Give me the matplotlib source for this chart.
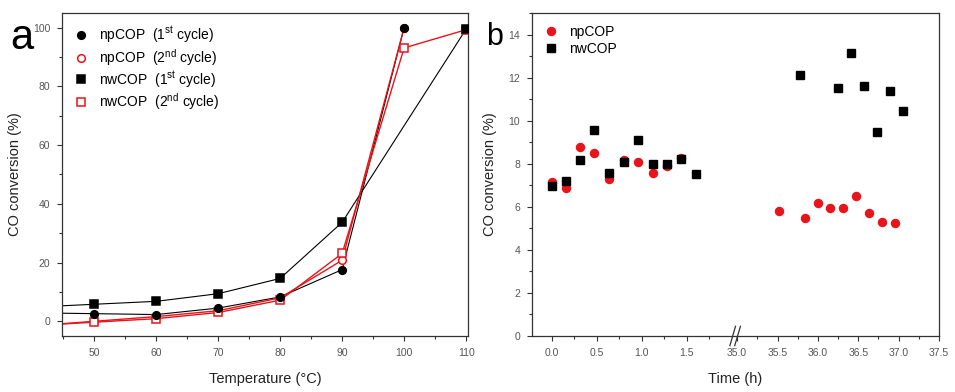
"""Two-panel CO conversion figure: temperature sweep (a) and stability over time (b)."""

import matplotlib

matplotlib.use('Agg')
import matplotlib.pyplot as plt
import numpy as np
from matplotlib.ticker import FixedLocator, MultipleLocator

plt.rcParams['font.family'] = ['Liberation Sans', 'DejaVu Sans']
plt.rcParams['mathtext.default'] = 'regular'

# Panel a: conversion vs temperature.
np1_temp = [50, 60, 70, 80, 90, 100]
np1_conv = [2.6, 2.3, 4.5, 8.3, 17.6, 100.0]
np2_temp = [50, 60, 70, 80, 90, 100]
np2_conv = [0.0, 1.6, 3.6, 8.0, 20.8, 100.0]
nw1_temp = [50, 60, 70, 80, 90, 110]
nw1_conv = [5.8, 6.8, 9.4, 14.6, 33.7, 99.5]
nw2_temp = [50, 60, 70, 80, 90, 100, 110]
nw2_conv = [-0.3, 0.9, 3.0, 7.2, 23.1, 93.1, 99.3]

# Panel b: conversion vs time on stream.
np_time = [0.0, 0.155, 0.31, 0.47, 0.64, 0.80, 0.96, 1.12, 1.28, 1.44,
           35.52, 35.84, 36.0, 36.15, 36.31, 36.47, 36.63, 36.79, 36.95]
np_conv = [7.15, 6.89, 8.78, 8.50, 7.31, 8.16, 8.08, 7.59, 7.90, 8.25,
           5.81, 5.50, 6.18, 5.95, 5.95, 6.49, 5.69, 5.27, 5.25]
nw_time = [0.0, 0.16, 0.31, 0.47, 0.64, 0.80, 0.96, 1.12, 1.28, 1.44, 1.60,
           35.78, 36.25, 36.41, 36.57, 36.73, 36.89, 37.05]
nw_conv = [6.95, 7.19, 8.19, 9.55, 7.57, 8.08, 9.09, 7.97, 8.00, 8.22, 7.54,
           12.12, 11.51, 13.15, 11.59, 9.47, 11.37, 10.45]

time_ticks = [0.0, 0.5, 1.0, 1.5, 35.0, 35.5, 36.0, 36.5, 37.0, 37.5]
time_minor = [0.25, 0.75, 1.25, 1.75, 35.25, 35.75, 36.25, 36.75, 37.25]

RED = '#e8141b'
TICK_COLOR = '#555555'
SPINE_COLOR = '#333333'

# Broken time axis: second segment is a bit compressed.
SCALE2 = 0.898
SEG2_START = 2.06


def forward(t):
    t = np.asarray(t, dtype=float)
    return np.where(t < 18, t, SEG2_START + (t - 35.0) * SCALE2)


def inverse(u):
    u = np.asarray(u, dtype=float)
    return np.where(u < 2.03, u, 35.0 + (u - SEG2_START) / SCALE2)


def style_axes(ax):
    for spine in ax.spines.values():
        spine.set_color(SPINE_COLOR)
        spine.set_linewidth(0.9)
    ax.tick_params(which='both', direction='out', colors=SPINE_COLOR,
                   labelcolor=TICK_COLOR, labelsize=7.5, top=False, right=False)
    ax.tick_params(which='major', length=3.5, width=0.8, pad=5)
    ax.tick_params(which='minor', length=2, width=0.8)


def with_left_extension(xs, ys, x_left):
    """Extend a series to the left axis edge along its first segment."""
    slope = (ys[1] - ys[0]) / (xs[1] - xs[0])
    return [x_left] + list(xs), [ys[0] + slope * (x_left - xs[0])] + list(ys)


fig = plt.figure(figsize=(9.55, 3.92), dpi=100)
ax_a = fig.add_axes([0.0649, 0.1429, 0.4251, 0.824])
ax_b = fig.add_axes([0.5571, 0.1429, 0.4262, 0.824])

# ---- Panel a
x_left = 44.8
series = [
    (np1_temp, np1_conv, 'k', 'o', 'k', 'npCOP  (1$^{st}$ cycle)', 0.8, 5),
    (np2_temp, np2_conv, RED, 'o', 'white', 'npCOP  (2$^{nd}$ cycle)', 1.0, 4),
    (nw1_temp, nw1_conv, 'k', 's', 'k', 'nwCOP  (1$^{st}$ cycle)', 0.8, 5),
    (nw2_temp, nw2_conv, RED, 's', 'white', 'nwCOP  (2$^{nd}$ cycle)', 1.0, 4),
]
for xs, ys, color, marker, face, label, lw, z in series:
    lx, ly = with_left_extension(xs, ys, x_left)
    ax_a.plot(lx, ly, color=color, lw=lw, zorder=2)
    ax_a.plot(xs, ys, linestyle='none', marker=marker, markersize=5.5,
              markerfacecolor=face, markeredgecolor=color, markeredgewidth=1.1,
              label=label, zorder=z)

ax_a.set_xlim(x_left, 110.3)
ax_a.set_ylim(-5, 105)
ax_a.xaxis.set_major_locator(MultipleLocator(10))
ax_a.xaxis.set_minor_locator(MultipleLocator(5))
ax_a.yaxis.set_major_locator(MultipleLocator(20))
ax_a.yaxis.set_minor_locator(MultipleLocator(10))
style_axes(ax_a)
ax_a.set_xlabel('Temperature (°C)', fontsize=10.5, color='#222222', labelpad=10)
ax_a.set_ylabel('CO conversion (%)', fontsize=10.5, color='#222222', labelpad=8)
ax_a.legend(loc='upper left', bbox_to_anchor=(0.0, 1.0), frameon=False,
            fontsize=10, handlelength=1.0, handletextpad=0.8,
            labelspacing=0.1, borderaxespad=0.45)
fig.text(0.023, 0.875, 'a', fontsize=30, ha='center', va='baseline')

# ---- Panel b
ax_b.set_xscale('function', functions=(forward, inverse))
ax_b.plot(np_time, np_conv, linestyle='none', marker='o', markersize=5.8,
          color=RED, label='npCOP', zorder=3)
ax_b.plot(nw_time, nw_conv, linestyle='none', marker='s', markersize=5.5,
          color='k', label='nwCOP', zorder=3)
ax_b.set_xlim(-0.22, 37.5)
ax_b.set_ylim(0, 15)
ax_b.xaxis.set_major_locator(FixedLocator(time_ticks))
ax_b.xaxis.set_minor_locator(FixedLocator(time_minor))
ax_b.set_xticklabels([f'{t:.1f}' for t in time_ticks])
ax_b.yaxis.set_major_locator(MultipleLocator(2))
ax_b.yaxis.set_minor_locator(MultipleLocator(1))
style_axes(ax_b)
ax_b.set_xlabel('Time (h)', fontsize=10.5, color='#222222', labelpad=10)
ax_b.set_ylabel('CO conversion (%)', fontsize=10.5, color='#222222', labelpad=8)
ax_b.legend(loc='upper left', frameon=False, fontsize=10, handlelength=1.0,
            handletextpad=0.8, labelspacing=0.2, borderaxespad=0.45)

# break marks on the time axis
for dx in (-0.008, 0.004):
    ax_b.plot([0.494 + dx, 0.508 + dx], [-0.03, 0.03], transform=ax_b.transAxes,
              color=SPINE_COLOR, lw=0.9, clip_on=False)
fig.text(0.518, 0.885, 'b', fontsize=22, ha='center', va='baseline')

fig.savefig('out.png', dpi=100)
